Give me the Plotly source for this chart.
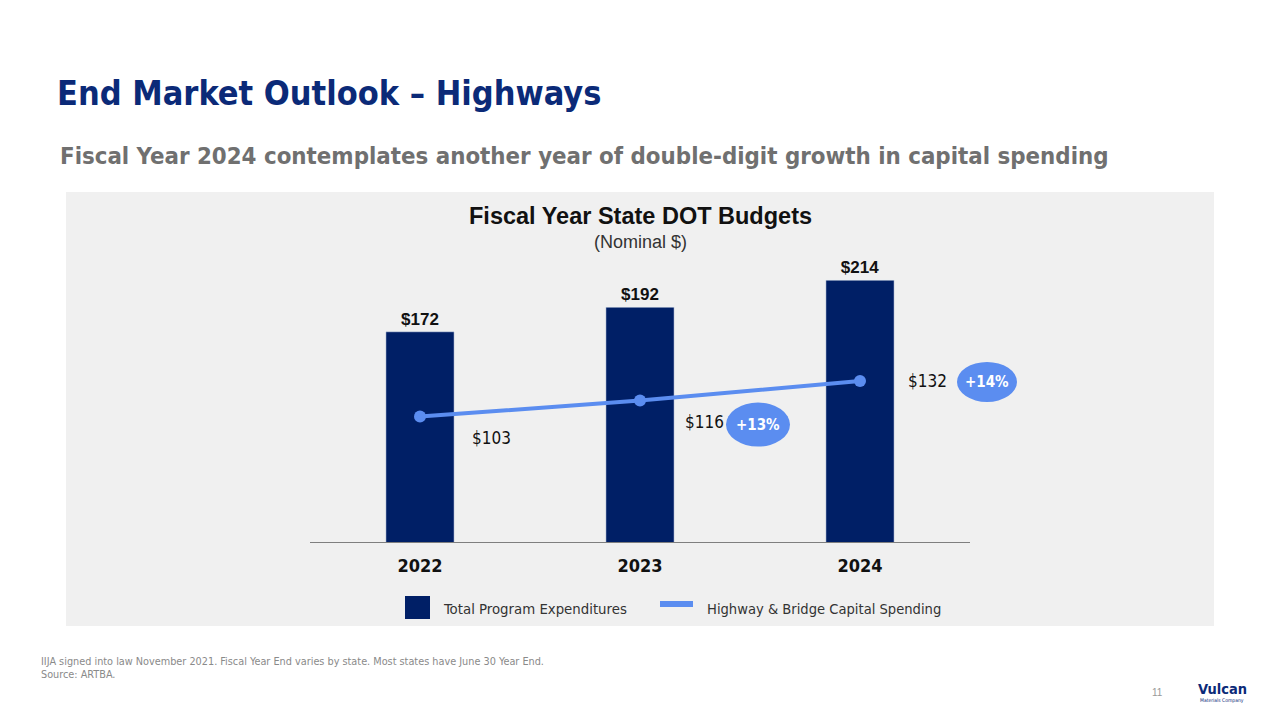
import plotly.graph_objects as go

years = ["2022", "2023", "2024"]
total_program = [172, 192, 214]
capital_spending = [103, 116, 132]
bar_labels = ["$172", "$192", "$214"]
line_labels = ["$103", "$116", "$132"]
growth_labels = ["", "+13%", "+14%"]

NAVY = "#001F66"
BLUE = "#5B8DF0"
W, H = 1280, 720
NARROW = "'Liberation Sans Narrow', 'Arial Narrow', 'DejaVu Sans Condensed', 'Liberation Sans', sans-serif"
SANS = "'Liberation Sans', Arial, sans-serif"

def px(x):
    return x / W

def py(y):
    return 1 - y / H

# axis geometry: categories at 0,1,2 ; plot area extended right so bubbles are not clipped
X_LEFT, X_RIGHT_AXIS, X_RIGHT_PLOT = 310, 970, 1214
step = (X_RIGHT_AXIS - X_LEFT) / 3.0
x_range_max = 2.5 + (X_RIGHT_PLOT - X_RIGHT_AXIS) / step

fig = go.Figure()
fig.add_trace(go.Bar(
    x=years, y=total_program, marker_color=NAVY, width=0.31,
    text=["<b>" + t + "</b>" for t in bar_labels], textposition="outside", cliponaxis=False,
    textfont=dict(family=SANS, size=17, color="#111111"),
    name="Total Program Expenditures", showlegend=False))
fig.add_trace(go.Scatter(
    x=years, y=capital_spending, mode="lines+markers",
    line=dict(color=BLUE, width=4), marker=dict(color=BLUE, size=12),
    name="Highway & Bridge Capital Spending", showlegend=False))

# baseline (axis line) from -0.5 to 2.5
fig.add_shape(type="line", xref="x", yref="y", x0=-0.5, x1=2.5, y0=0, y1=0,
              line=dict(color="#7F7F7F", width=2))

# value labels for the line
label_shift = [(71, -21), (64, -21), (67, 0)]
for i, (v, lab) in enumerate(zip(capital_spending, line_labels)):
    dx, dy = label_shift[i]
    fig.add_annotation(xref="x", yref="y", x=i, y=v, text=lab, showarrow=False,
                       xanchor="center", yanchor="middle", xshift=dx, yshift=dy,
                       font=dict(family=NARROW, size=17, color="#111111"))

# growth bubbles
bubble_off = [None, (118, -24, 32, 22), (127, -1, 30, 20)]
for i, (v, g) in enumerate(zip(capital_spending, growth_labels)):
    if not g:
        continue
    dx, dy, rx, ry = bubble_off[i]
    fig.add_shape(type="circle", xref="x", yref="y", xsizemode="pixel", ysizemode="pixel",
                  xanchor=i, yanchor=v, x0=dx - rx, x1=dx + rx, y0=dy - ry, y1=dy + ry,
                  fillcolor=BLUE, line=dict(width=0))
    fig.add_annotation(xref="x", yref="y", x=i, y=v, text="<b>" + g + "</b>", showarrow=False,
                       xanchor="center", yanchor="middle", xshift=dx, yshift=dy,
                       font=dict(family=NARROW, size=15, color="white"))

# grey panel
fig.add_shape(type="rect", xref="paper", yref="paper", x0=px(66), x1=px(1214), y0=py(626), y1=py(192),
              fillcolor="#F0F0F0", line=dict(width=0), layer="below")

def note(x, y, text, size, color, family=NARROW, xanchor="left"):
    fig.add_annotation(xref="paper", yref="paper", x=px(x), y=py(y), xanchor=xanchor, yanchor="middle",
                       text=text, showarrow=False, font=dict(family=family, size=size, color=color))

# legend (manual)
fig.add_shape(type="rect", xref="paper", yref="paper", x0=px(405), x1=px(430), y0=py(619), y1=py(596),
              fillcolor=NAVY, line=dict(width=0))
note(441, 608, "Total Program Expenditures", 14.8, "#333333")
fig.add_shape(type="rect", xref="paper", yref="paper", x0=px(660), x1=px(693), y0=py(607), y1=py(601),
              fillcolor=BLUE, line=dict(width=0))
note(705, 608, "Highway & Bridge Capital Spending", 14.6, "#333333")

# chart title
note(640, 216, "<b>Fiscal Year State DOT Budgets</b>", 23.5, "#111111", SANS, "center")
note(640, 242, "(Nominal $)", 18, "#333333", SANS, "center")

# slide title
note(55, 93, "<b>End Market Outlook – Highways</b>", 34, "#0B2A78")
note(58, 156, "<b>Fiscal Year 2024 contemplates another year of double-digit growth in capital spending</b>",
     23.8, "#707070")

# footnotes
note(39, 661, "IIJA signed into law November 2021. Fiscal Year End varies by state. Most states have June 30 Year End.",
     10.8, "#8A8A8A")
note(39, 674, "Source: ARTBA.", 10.8, "#8A8A8A")
note(1157, 692, "11", 10, "#999999", SANS, "center")
note(1222, 689, "<b>Vulcan</b>", 14.5, "#0B2A78", NARROW, "center")
note(1222, 700, "Materials Company", 5, "#0B2A78", NARROW, "center")

fig.update_layout(
    width=W, height=H, margin=dict(l=0, r=0, t=0, b=0),
    paper_bgcolor="white", plot_bgcolor="rgba(0,0,0,0)",
    xaxis=dict(domain=[px(X_LEFT), px(X_RIGHT_PLOT)], range=[-0.5, x_range_max], type="category",
               showline=False, showgrid=False, zeroline=False, ticks="", ticklabelstandoff=10,
               tickfont=dict(family=NARROW, size=18, color="#111111"),
               tickprefix="<b>", ticksuffix="</b>"),
    yaxis=dict(domain=[py(543), py(236)], range=[0, 250], visible=False, showgrid=False),
    showlegend=False,
)

fig.write_html("out.html", config={"displayModeBar": False},
               post_script="document.body.style.margin='0';document.body.style.overflow='hidden';")
